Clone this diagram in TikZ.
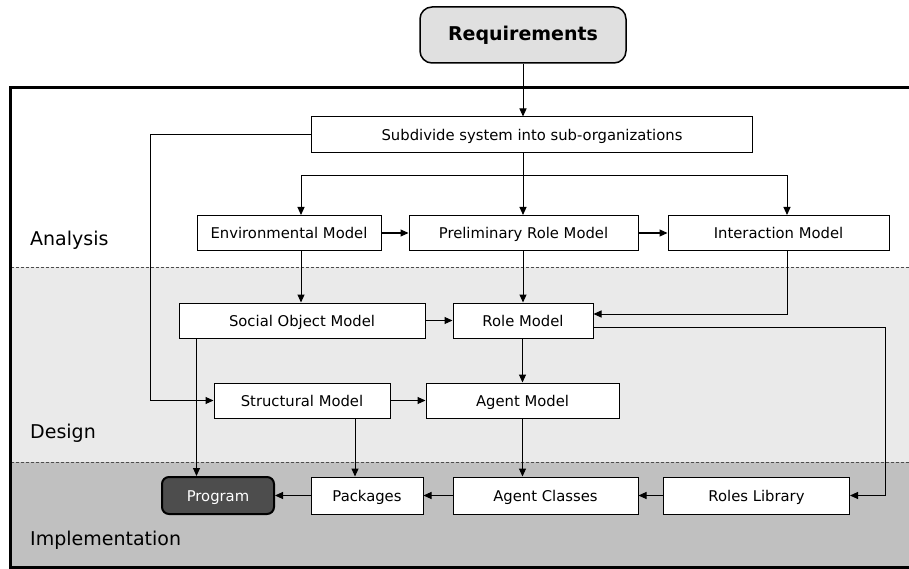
\documentclass[tikz,border=0pt]{standalone}
\usepackage{fontspec}
\setmainfont{DejaVu Sans}
\usepackage{xcolor}
\usetikzlibrary{calc,arrows.meta}

\definecolor{designgray}{HTML}{EAEAEA}
\definecolor{implgray}{HTML}{C0C0C0}
\definecolor{reqgray}{HTML}{E0E0E0}
\definecolor{proggray}{HTML}{4D4D4D}

\tikzset{
    modelbox/.style={draw, fill=white, line width=1pt, inner sep=0pt,
        minimum height=35pt, text height=12pt, text depth=0pt,
        font=\fontsize{14.8}{16}\selectfont},
    phaselabel/.style={anchor=west, inner sep=0pt, font=\fontsize{19}{21}\selectfont},
    phaseline/.style={draw=black!70, line width=1pt, dash pattern=on 3pt off 2pt},
    link/.style={line width=1pt, -{Triangle[length=8pt, width=7pt]}}
}

\begin{document}
\begin{tikzpicture}[x=1pt, y=-1pt]
            \useasboundingbox (0, 0) rectangle (909, 569);

            % phases
            \fill[designgray] (10, 267) rectangle (915, 462);
            \fill[implgray] (10, 462) rectangle (915, 567);
            \draw[phaseline] (11, 267) -- (909, 267);
            \draw[phaseline] (11, 462) -- (909, 462);
            \draw[line width=3pt] (915, 88) -- (10, 88) -- (10, 567) -- (915, 567);

            \node[phaselabel] (analysis) at (30, 240) {Analysis};
            \node[phaselabel] (design) at (30, 433) {Design};
            \node[phaselabel] (implementation) at (30, 540) {Implementation};

            % boxes
            \node[draw, line width=1.5pt, rounded corners=12pt, fill=reqgray, minimum width=206pt,
                minimum height=56pt, font=\fontsize{19}{21}\selectfont\bfseries] (req) at (523, 35) {Requirements};

            \node[modelbox, minimum width=441pt, minimum height=36pt] (sub) at (532, 135) {Subdivide system into sub-organizations};

            \node[modelbox, minimum width=184pt] (env) at (289, 233) {Environmental Model};
            \node[modelbox, minimum width=229pt] (prm) at (523.5, 233) {Preliminary Role Model};
            \node[modelbox, minimum width=221pt] (inm) at (778.5, 233) {Interaction Model};

            \node[modelbox, minimum width=246pt] (som) at (302, 320.5) {Social Object Model};
            \node[modelbox, minimum width=140pt] (rlm) at (523, 320.5) {Role Model};

            \node[modelbox, minimum width=176pt] (stm) at (302, 400.5) {Structural Model};
            \node[modelbox, minimum width=193pt] (agm) at (522.5, 400.5) {Agent Model};

            \node[modelbox, minimum width=112pt, minimum height=37pt, fill=proggray, line width=2pt,
                rounded corners=7pt, text=white] (prg) at (218, 495.5) {Program};
            \node[modelbox, minimum width=112pt, minimum height=37pt] (pkg) at (367, 495.5) {Packages};
            \node[modelbox, minimum width=185pt, minimum height=37pt] (agc) at (545.5, 495.5) {Agent Classes};
            \node[modelbox, minimum width=186pt, minimum height=37pt] (rlb) at (756.5, 495.5) {Roles Library};

            % connectors
            \coordinate (fork) at (523, 176);
            \draw[link] (req.south) -- (req.south |- sub.north);
            \draw[line width=1pt] (req.south |- sub.south) -- (fork);
            \draw[link] (fork) -| ([xshift=12pt]env.north);
            \draw[link] (fork) -- (fork |- prm.north);
            \draw[link] (fork) -| ([xshift=8.5pt]inm.north);

            \draw[link] (env) -- (prm);
            \draw[link] (prm) -- (inm);

            \draw[link] ([xshift=12pt]env.south) -- ([xshift=12pt]env.south |- som.north);
            \draw[link] (prm.south -| rlm.north) -- (rlm.north);
            \draw[link] ([xshift=8.5pt]inm.south) |- ([yshift=6.5pt]rlm.east);
            \draw[link] (som) -- (rlm);

            \draw[link] (sub.west) -- ++(-161, 0) |- (stm.west);
            \draw[link] (rlm.south -| agm.north) -- (agm.north);
            \draw[link] (stm) -- (agm);
            \draw[link] ([yshift=-6.5pt]rlm.east) -| ([xshift=35pt]rlb.east) -- (rlb.east);

            \draw[link] ([xshift=18pt]som.south west) -- ([xshift=18pt]som.south west |- prg.north);
            \draw[link] ([xshift=53pt]stm.south) -- ([xshift=53pt]stm.south |- pkg.north);
            \draw[link] (agm.south) -- (agm.south |- agc.north);

            \draw[link] (rlb) -- (agc);
            \draw[link] (agc) -- (pkg);
            \draw[link] (pkg) -- (prg);
        \end{tikzpicture}
\end{document}
